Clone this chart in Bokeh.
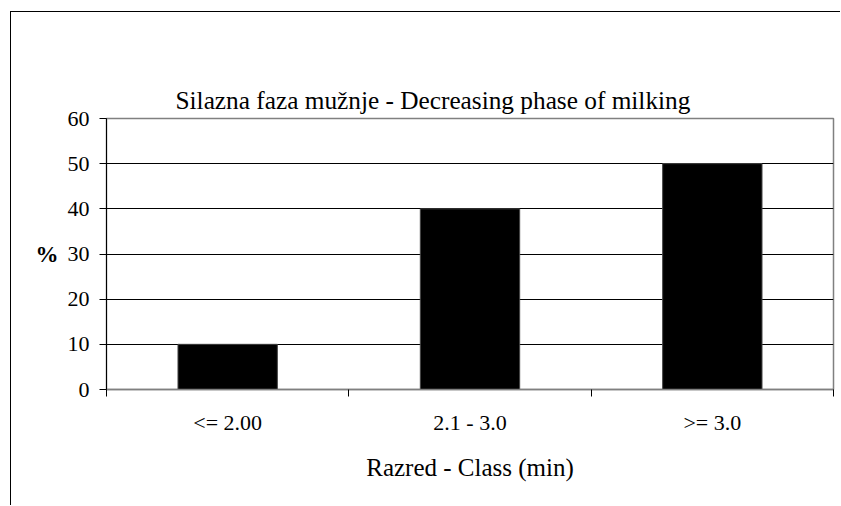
from bokeh.plotting import figure
from bokeh.models import (Range1d, LinearAxis, FixedTicker, Grid, Title)
from bokeh.embed import file_html
from bokeh.resources import INLINE

categories = ["<= 2.00", "2.1 - 3.0", ">= 3.0"]
values = [10, 40, 50]
y_ticks = [0, 10, 20, 30, 40, 50, 60]
title_text = "Silazna faza mužnje - Decreasing phase of milking"
x_label = "Razred - Class (min)"
y_label = "%"

FONT = "Liberation Serif"

n = len(categories)
centers = [i + 0.5 for i in range(n)]
boundaries = list(range(n + 1))

p = figure(width=830, height=494, output_backend="svg", toolbar_location=None,
           x_range=Range1d(0, n), y_range=Range1d(0, 60),
           x_axis_location=None, y_axis_location=None,
           min_border_left=95, min_border_right=8, min_border_top=106, min_border_bottom=117)
p.styles = {"margin-left": "10px", "margin-top": "11px",
            "border-left": "1px solid black", "border-top": "1px solid black"}
for gr in p.grid:
    gr.visible = False
p.title.standoff = 0

# empty spacer between title and plot area (no ticks, no labels; tick length reserves space)
spacer = LinearAxis(ticker=FixedTicker(ticks=[]))
spacer.major_tick_out = 46
spacer.major_tick_in = 0
spacer.minor_tick_out = 0
spacer.minor_tick_in = 0
spacer.axis_line_color = None
spacer.major_tick_line_color = "white"
spacer.minor_tick_line_color = "white"
p.add_layout(spacer, "above")

title = Title(text=title_text, align="left", offset=69, vertical_align="bottom", standoff=10,
              text_font=FONT, text_font_size="25.3px", text_font_style="normal", text_color="black")
p.add_layout(title, "above")

p.vbar(x=centers, top=values, width=0.41, fill_color="black", line_color="#444444", line_width=1)

# y axis
yax = LinearAxis(ticker=FixedTicker(ticks=y_ticks), axis_label=y_label)
yax.axis_label_orientation = "horizontal"
yax.axis_label_text_font = FONT
yax.axis_label_text_font_style = "bold"
yax.axis_label_text_font_size = "23px"
yax.axis_label_text_color = "black"
yax.axis_label_standoff = 6
yax.major_label_text_font = FONT
yax.major_label_text_font_size = "22px"
yax.major_label_text_color = "black"
yax.major_label_standoff = 10
yax.major_tick_out = 7
yax.major_tick_in = 0
yax.minor_tick_out = 0
yax.minor_tick_in = 0
yax.axis_line_color = "black"
yax.major_tick_line_color = "black"
p.add_layout(yax, "left")

# x axis: labels at category centers, minor ticks at category boundaries
xax = LinearAxis(ticker=FixedTicker(ticks=centers, minor_ticks=boundaries), axis_label=x_label,
                 major_label_overrides={c: lab for c, lab in zip(centers, categories)})
xax.major_tick_out = 0
xax.major_tick_in = 0
xax.minor_tick_out = 7
xax.minor_tick_in = 0
xax.minor_tick_line_color = "black"
xax.axis_line_color = "#808080"
xax.axis_line_width = 1.5
xax.major_label_text_font = FONT
xax.major_label_text_font_size = "22px"
xax.major_label_text_color = "black"
xax.major_label_standoff = 13
xax.axis_label_text_font = FONT
xax.axis_label_text_font_style = "normal"
xax.axis_label_text_font_size = "25px"
xax.axis_label_text_color = "black"
xax.axis_label_standoff = 16
p.add_layout(xax, "below")

# grid
g = Grid(dimension=1, ticker=FixedTicker(ticks=y_ticks))
g.grid_line_color = "black"
g.grid_line_width = 1
p.add_layout(g)

p.outline_line_color = "#808080"
p.outline_line_width = 1.5
p.background_fill_color = "white"
p.border_fill_color = "white"

open("out.html", "w").write(file_html(p, INLINE))
